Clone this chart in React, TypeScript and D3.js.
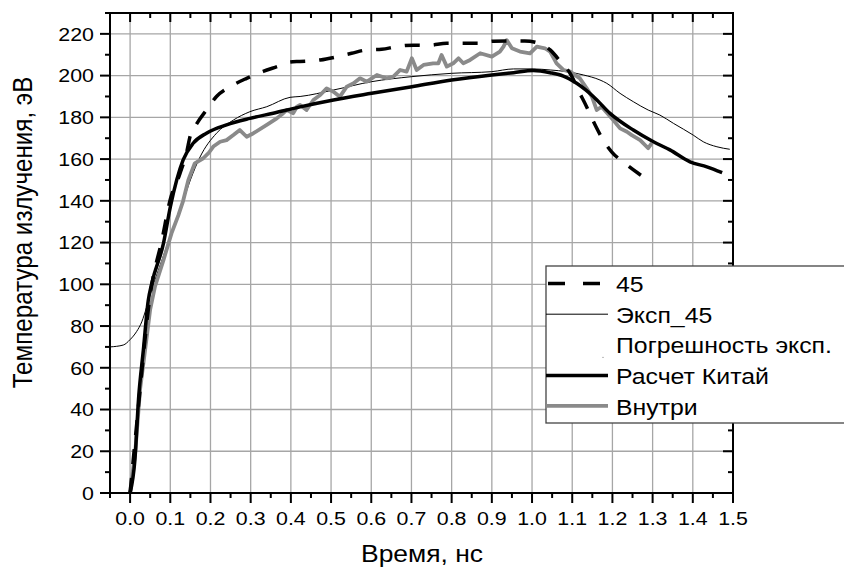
import React from "react";
import * as d3 from "d3";

const t45 = [0, 0.02, 0.05, 0.08, 0.099, 0.124, 0.141, 0.149, 0.166, 0.19, 0.215, 0.249, 0.29, 0.331, 0.369, 0.398, 0.423, 0.473, 0.514, 0.551, 0.589, 0.626, 0.663, 0.705, 0.742, 0.788, 0.825, 0.866, 0.904, 0.945, 0.982, 1.012, 1.045, 1.074, 1.095, 1.115, 1.136, 1.157, 1.177, 1.198, 1.231, 1.264, 1.295];
const v45 = [0, 40, 95, 122, 140, 153, 163.5, 170.7, 177, 183.5, 190, 194.7, 198.7, 202, 204.5, 206.5, 206.8, 207.5, 209, 210.7, 212.3, 212.6, 213.9, 214.6, 214.5, 215.5, 215.5, 215.5, 216.5, 216.6, 216.6, 215.8, 212.3, 205.9, 201, 193, 185, 176.3, 169.1, 163.5, 158, 153.2, 149.2];

const tExp = [-0.05, -0.017, 0, 0.016, 0.029, 0.041, 0.05, 0.06, 0.08, 0.1, 0.12, 0.132, 0.15, 0.174, 0.215, 0.257, 0.298, 0.34, 0.398, 0.423, 0.506, 0.601, 0.701, 0.8, 0.9, 0.954, 1.003, 1.045, 1.086, 1.128, 1.169, 1.186, 1.219, 1.252, 1.289, 1.318, 1.352, 1.401, 1.426, 1.46, 1.492];
const vExp = [70, 70.9, 73.5, 77.3, 82, 89, 95, 101, 112, 123, 134, 140, 150, 161, 172.4, 178.7, 182.7, 185.1, 189.6, 190, 193.1, 197.1, 199.5, 201.1, 201.9, 203.2, 203.2, 202.7, 201.9, 200.3, 197.9, 196.3, 191.5, 187.5, 183.5, 181.1, 177.1, 171.5, 168.3, 165.9, 164.7];

const tCalc = [0, 0.012, 0.021, 0.033, 0.045, 0.054, 0.083, 0.1, 0.132, 0.157, 0.19, 0.24, 0.298, 0.356, 0.423, 0.506, 0.601, 0.701, 0.8, 0.9, 0.954, 1.003, 1.045, 1.078, 1.111, 1.153, 1.194, 1.252, 1.302, 1.343, 1.393, 1.435, 1.473];
const vCalc = [0, 16, 45, 68.5, 92, 100.5, 119.6, 137, 159.6, 167.6, 172.4, 176.4, 179.5, 182, 185, 188.3, 191.5, 194.7, 197.9, 200.3, 201.4, 202.4, 201.4, 199.8, 196.3, 189.9, 181.9, 173.9, 168.3, 164.4, 158.7, 156.3, 153.5];

const tIn = [0, 0.013, 0.025, 0.037, 0.05, 0.062, 0.083, 0.103, 0.12, 0.132, 0.145, 0.161, 0.182, 0.195, 0.207, 0.224, 0.24, 0.257, 0.273, 0.29, 0.307, 0.34, 0.365, 0.381, 0.39, 0.406, 0.415, 0.423, 0.439, 0.456, 0.473, 0.489, 0.506, 0.522, 0.539, 0.556, 0.572, 0.589, 0.614, 0.638, 0.655, 0.672, 0.688, 0.701, 0.713, 0.73, 0.754, 0.767, 0.775, 0.788, 0.804, 0.817, 0.829, 0.846, 0.871, 0.9, 0.92, 0.929, 0.937, 0.95, 0.97, 0.995, 1.012, 1.032, 1.045, 1.061, 1.078, 1.095, 1.119, 1.136, 1.149, 1.161, 1.173, 1.202, 1.219, 1.236, 1.248, 1.269, 1.289, 1.298];
const vIn = [0, 20, 50, 68, 88, 99, 111.6, 124.4, 133, 140, 150, 158, 160.4, 162.8, 166, 168.3, 169.1, 171.5, 173.9, 170.7, 172.4, 176.4, 179.5, 182, 183.5, 182, 185.1, 185.9, 183.5, 188.3, 190.7, 193.9, 192.3, 189.9, 194.7, 196.3, 198.7, 197.1, 200.3, 198.7, 199.5, 202.7, 201.9, 208.3, 202.7, 205.1, 205.9, 205.9, 209.9, 204.3, 205.9, 208.3, 205.9, 207.5, 210.7, 209.1, 211.5, 213.9, 217, 213.1, 211.5, 210.7, 213.9, 213.1, 211.5, 205.9, 202.7, 201.9, 198.7, 193.9, 189.9, 183.5, 185.1, 178.7, 174.7, 173.1, 171.5, 169.1, 165.2, 167.6];

const xTicks = [0, 0.1, 0.2, 0.3, 0.4, 0.5, 0.6, 0.7, 0.8, 0.9, 1.0, 1.1, 1.2, 1.3, 1.4, 1.5];
const yTicks = [0, 20, 40, 60, 80, 100, 120, 140, 160, 180, 200, 220];
const legendLabels = ["45", "Эксп_45", "Погрешность эксп.", "Расчет Китай", "Внутри"];
const xTitle = "Время, нс";
const yTitle = "Температура излучения, эВ";

const FONT = "'Liberation Sans', Arial, sans-serif";
const SX = 1.15;

export default function App() {
  const L = 110, R = 733, T = 13, B = 493;
  const x = d3.scaleLinear().domain([-0.05, 1.5]).range([L, R]);
  const y = d3.scaleLinear().domain([0, 230]).range([B, T]);

  const mk = (ts: number[], vs: number[], curve: any) =>
    d3.line<number>().x((_, i) => x(ts[i])).y((v) => y(v)).curve(curve)(vs) || "";

  const p45 = mk(t45, v45, d3.curveMonotoneX);
  const pExp = mk(tExp, vExp, d3.curveMonotoneX);
  const pCalc = mk(tCalc, vCalc, d3.curveMonotoneX);
  const pIn = mk(tIn, vIn, d3.curveLinear);

  const minorX = d3.range(-0.05, 1.5001, 0.1).map((v) => +v.toFixed(3));
  const minorY = d3.range(10, 231, 20);

  const legY0 = 292, legDy = 30.7;
  const legX1 = 546, legX2 = 608, legTx = 616;

  return (
    <svg width={844} height={569} style={{ position: "absolute", left: 0, top: 0, background: "#fff" }} fontFamily={FONT}>
      <rect x={0} y={0} width={844} height={569} fill="#fff" />
      <g stroke="#a6a6a6" strokeWidth={1.3}>
        {xTicks.filter((v) => v < 1.5).map((v) => (
          <line key={"gx" + v} x1={x(v)} x2={x(v)} y1={T} y2={B} />
        ))}
        {yTicks.filter((v) => v > 0).map((v) => (
          <line key={"gy" + v} x1={L} x2={R} y1={y(v)} y2={y(v)} />
        ))}
      </g>
      <path d={pExp} fill="none" stroke="#000" strokeWidth={1} />
      <path d={pIn} fill="none" stroke="#8a8a8a" strokeWidth={3.8} strokeLinejoin="round" />
      <path d={pCalc} fill="none" stroke="#000" strokeWidth={3.5} />
      <path d={p45} fill="none" stroke="#000" strokeWidth={3.5} strokeDasharray="15,14" />
      <g stroke="#000" strokeWidth={2}>
        {xTicks.map((v) => (
          <g key={"tx" + v}>
            <line x1={x(v)} x2={x(v)} y1={B} y2={B + 10} />
            <line x1={x(v)} x2={x(v)} y1={T} y2={T + 9} />
          </g>
        ))}
        {minorX.map((v) => (
          <g key={"mx" + v}>
            <line x1={x(v)} x2={x(v)} y1={B} y2={B + 5} />
            <line x1={x(v)} x2={x(v)} y1={T} y2={T + 5} />
          </g>
        ))}
        {yTicks.map((v) => (
          <g key={"ty" + v}>
            <line x1={L - 10} x2={L} y1={y(v)} y2={y(v)} />
            <line x1={R - 10} x2={R} y1={y(v)} y2={y(v)} />
          </g>
        ))}
        {minorY.map((v) => (
          <g key={"my" + v}>
            <line x1={L - 5} x2={L} y1={y(v)} y2={y(v)} />
            <line x1={R - 5} x2={R} y1={y(v)} y2={y(v)} />
          </g>
        ))}
      </g>
      <rect x={L} y={T} width={R - L} height={B - T} fill="none" stroke="#000" strokeWidth={2} />
      <g fontSize={18.6} fill="#000">
        {xTicks.map((v) => (
          <text key={"lx" + v} transform={`translate(${x(v)},525) scale(${SX},1)`} textAnchor="middle">
            {v.toFixed(1)}
          </text>
        ))}
        {yTicks.map((v) => (
          <text key={"ly" + v} transform={`translate(94,${y(v) + 6.8}) scale(${SX},1)`} textAnchor="end">
            {v}
          </text>
        ))}
      </g>
      <text transform={`translate(422,562) scale(${SX},1)`} textAnchor="middle" fontSize={23}>
        {xTitle}
      </text>
      <text transform={`translate(32,232.5) scale(${SX},1) rotate(-90)`} textAnchor="middle" fontSize={24.2}>
        {yTitle}
      </text>
      <rect x={546} y={266} width={320} height={157} fill="#fff" stroke="#444" strokeWidth={1.3} />
      <line x1={legX1 + 2} x2={legX2} y1={legY0 - 8.5} y2={legY0 - 8.5} stroke="#000" strokeWidth={3.5} strokeDasharray="17,18" />
      <line x1={legX1} x2={legX2} y1={legY0 + legDy - 8.5} y2={legY0 + legDy - 8.5} stroke="#000" strokeWidth={1} />
      <line x1={602} x2={604} y1={legY0 + 2 * legDy + 4} y2={legY0 + 2 * legDy + 4} stroke="#bbb" strokeWidth={1} />
      <line x1={legX1} x2={legX2} y1={legY0 + 3 * legDy - 8.5} y2={legY0 + 3 * legDy - 8.5} stroke="#000" strokeWidth={3.5} />
      <line x1={legX1} x2={legX2} y1={legY0 + 4 * legDy - 9} y2={legY0 + 4 * legDy - 9} stroke="#8a8a8a" strokeWidth={3.8} />
      <g fontSize={21.6}>
        {legendLabels.map((s, i) => (
          <text key={s} transform={`translate(${legTx},${legY0 + i * legDy}) scale(${SX},1)`}>
            {s}
          </text>
        ))}
      </g>
    </svg>
  );
}
